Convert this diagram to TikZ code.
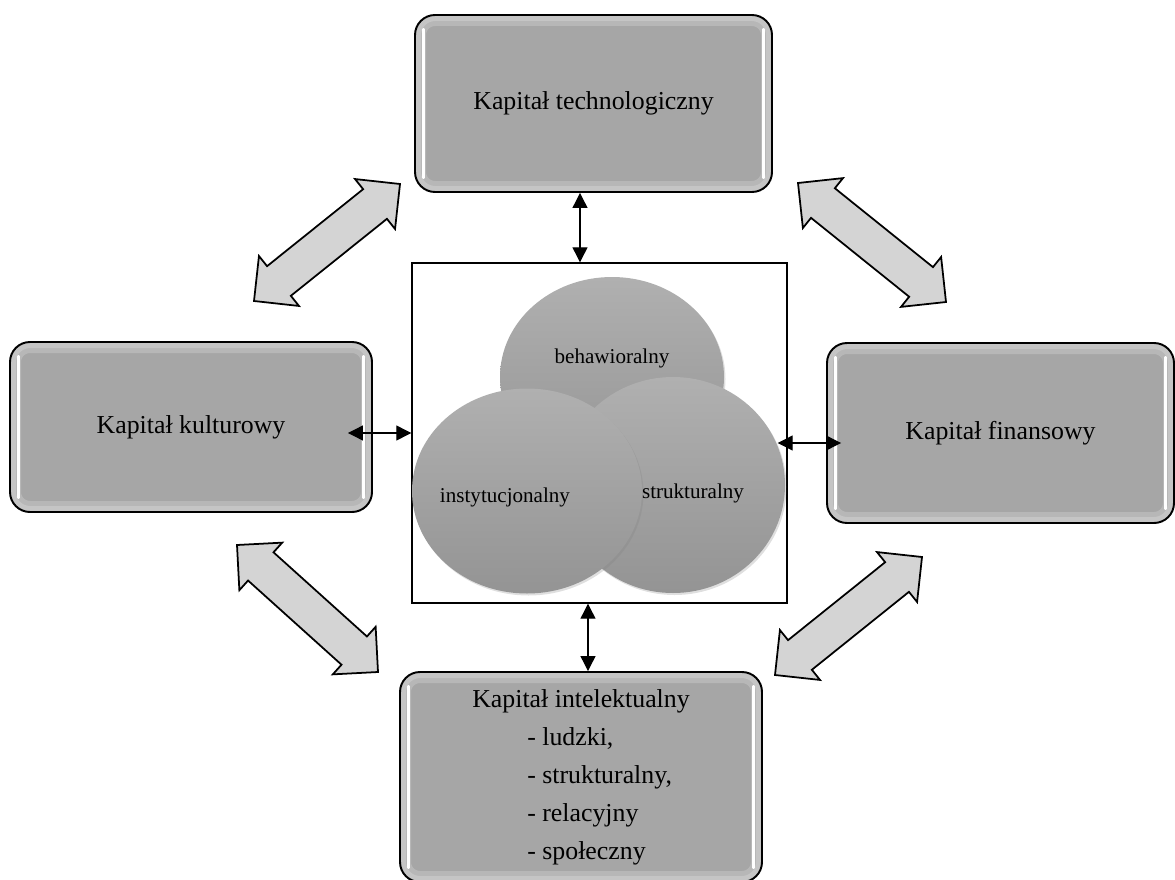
\documentclass[tikz,border=0pt]{standalone}
\usepackage{fontspec}
\setmainfont{Liberation Serif}
\usepackage{tikz}
\usetikzlibrary{arrows.meta, calc, shapes.geometric, shadows}
\tikzset{
  capbox/.style={rectangle, rounded corners=0.4cm, draw=black, line width=1.1pt, fill=black!35,
                 align=center, font=\fontsize{14.7}{21.6}\selectfont,
                 path picture={
                   \draw[white, opacity=0.2, line width=0.44cm, rounded corners=0.4cm]
                     (path picture bounding box.north west) rectangle (path picture bounding box.south east);
                   \draw[white, opacity=0.2, line width=0.24cm, rounded corners=0.4cm]
                     (path picture bounding box.north west) rectangle (path picture bounding box.south east);
                   \draw[white, line width=2.2pt, line cap=round]
                     ([xshift=0.17cm, yshift=-0.3cm]path picture bounding box.north west) --
                     ([xshift=0.17cm, yshift=0.3cm]path picture bounding box.south west);
                   \draw[white, line width=2.2pt, line cap=round]
                     ([xshift=-0.17cm, yshift=-0.3cm]path picture bounding box.north east) --
                     ([xshift=-0.17cm, yshift=0.3cm]path picture bounding box.south east);
                 }},
  venn/.style={ellipse, draw=none, top color=black!31, bottom color=black!42, inner sep=0pt,
               drop shadow={opacity=0.25, shadow xshift=0.03cm, shadow yshift=-0.04cm}},
  vennlabel/.style={font=\fontsize{12}{14}\selectfont},
  frame/.style={rectangle, draw=black, line width=0.8pt, inner sep=0pt},
  smallarr/.style={{Triangle[width=0.3cm, length=0.3cm]}-{Triangle[width=0.3cm, length=0.3cm]}, line width=0.7pt},
  fatarr/.style={draw=black, line width=1pt, fill=black!17, line join=miter},
}
% fat double arrow between two tip points
\def\fahead{0.64cm}
\def\fahalf{0.64cm}
\def\fashaft{0.38cm}
\newcommand{\fatarrow}[2]{%
  \draw[fatarr] (#1)
    -- ($(#1)!\fahead!(#2)!\fahalf!90:(#2)$)
    -- ($(#1)!\fahead!(#2)!\fashaft!90:(#2)$)
    -- ($(#2)!\fahead!(#1)!\fashaft!-90:(#1)$)
    -- ($(#2)!\fahead!(#1)!\fahalf!-90:(#1)$)
    -- (#2)
    -- ($(#2)!\fahead!(#1)!\fahalf!90:(#1)$)
    -- ($(#2)!\fahead!(#1)!\fashaft!90:(#1)$)
    -- ($(#1)!\fahead!(#2)!\fashaft!-90:(#2)$)
    -- ($(#1)!\fahead!(#2)!\fahalf!-90:(#2)$)
    -- cycle;}

\begin{document}
\begin{tikzpicture}
\useasboundingbox (0,0) rectangle (23.5,-17.58);

\node[capbox, minimum width=7.14cm, minimum height=3.54cm] (tech)  at (11.87,-2.07)  {Kapitał technologiczny};
\node[capbox, minimum width=7.24cm, minimum height=3.4cm]  (kult)  at (3.82,-8.54)   {Kapitał kulturowy};
\node[capbox, minimum width=6.94cm, minimum height=3.6cm]  (fin)   at (20.01,-8.66)  {Kapitał finansowy};
\node[capbox, minimum width=7.24cm, minimum height=4.2cm, align=left] (intel) at (11.62,-15.54)
  {Kapitał intelektualny\\ \hspace*{1.1cm}- ludzki,\\ \hspace*{1.1cm}- strukturalny,\\
   \hspace*{1.1cm}- relacyjny\\ \hspace*{1.1cm}- społeczny};

% centre
\node[frame, minimum width=7.5cm, minimum height=6.8cm] (box) at (11.99,-8.66) {};
\node[venn, minimum width=4.48cm, minimum height=4.0cm]  (beh)    at (12.24,-7.54) {};
\node[venn, minimum width=4.48cm, minimum height=4.32cm] (strukt) at (13.46,-9.70) {};
\node[venn, minimum width=4.6cm,  minimum height=4.1cm]  (inst)   at (10.54,-9.82) {};
\node[vennlabel] at ([yshift=0.38cm]beh.center) {behawioralny};
\node[vennlabel] at ([xshift=0.4cm, yshift=-0.16cm]strukt.center) {strukturalny};
\node[vennlabel] at ([xshift=-0.44cm, yshift=-0.12cm]inst.center) {instytucjonalny};

\draw[smallarr] ([xshift=-0.39cm]box.north |- tech.south) -- ([xshift=-0.39cm]box.north);
\draw[smallarr] ([xshift=-0.23cm]box.south) -- ([xshift=-0.23cm]box.south |- intel.north);
\draw[smallarr] ([xshift=-0.5cm]kult.east |- box.west) -- (box.west);
\draw[smallarr] ([xshift=-0.2cm, yshift=-0.2cm]box.east) -- ([xshift=0.3cm, yshift=-0.2cm]fin.west |- box.east);

\coordinate (tlA) at (8.0,-3.68);   \coordinate (tlB) at (5.08,-6.02);
\coordinate (trA) at (15.96,-3.66); \coordinate (trB) at (18.92,-6.04);
\coordinate (blA) at (4.74,-10.9);  \coordinate (blB) at (7.56,-13.44);
\coordinate (brA) at (18.44,-11.14); \coordinate (brB) at (15.5,-13.5);
\fatarrow{tlA}{tlB}
\fatarrow{trA}{trB}
\fatarrow{blA}{blB}
\fatarrow{brA}{brB}
\end{tikzpicture}
\end{document}
